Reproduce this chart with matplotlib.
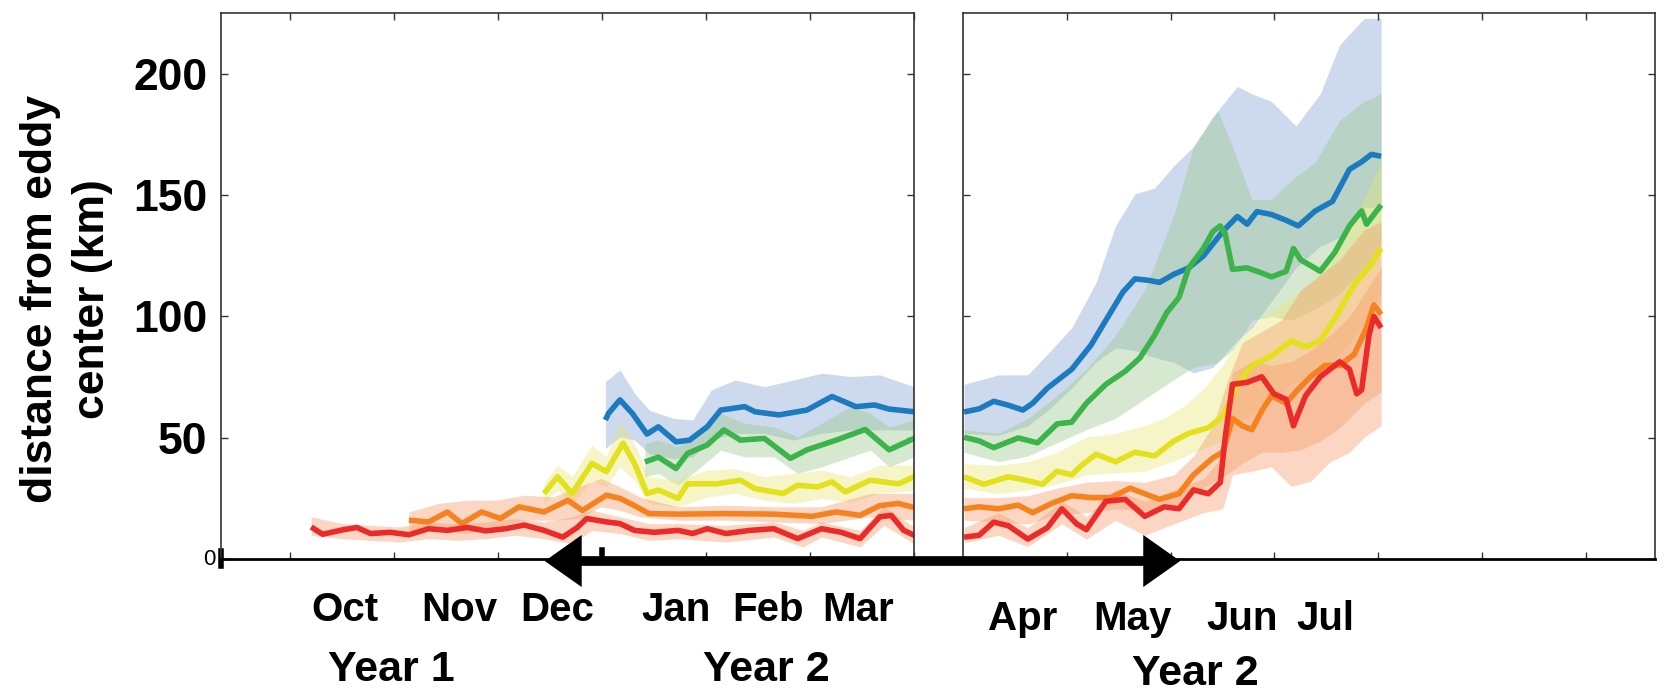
import matplotlib.pyplot as plt
import numpy as np
from matplotlib.patches import FancyArrowPatch
from matplotlib.lines import Line2D
import matplotlib.transforms as mtransforms

plt.rcParams['font.family'] = ['Liberation Sans', 'DejaVu Sans']

# painel esquerdo (Oct - Mar), x em meses
blue_l_x = [3.03,3.06,3.17,3.29,3.43,3.54,3.71,3.84,4.01,4.14,4.37,4.47,4.70,4.97,5.21,5.44,5.62,5.76,6.00]
blue_l_y = [57.3,60,65.6,60,51.5,54.5,48.3,49,54.5,61.4,62.8,60.7,59.4,61.4,67,62.8,63.5,61.8,60.7]
green_l_x = [3.41,3.54,3.71,3.82,4.01,4.17,4.33,4.56,4.81,4.97,5.11,5.25,5.53,5.76,6.00]
green_l_y = [40,42,37.3,43.5,47,53.2,49,49.7,41.5,45,47,49,53.4,45,49.7]
yellow_l_x = [2.44,2.57,2.71,2.90,3.04,3.20,3.31,3.43,3.54,3.73,3.82,4.10,4.33,4.47,4.74,4.88,5.07,5.21,5.34,5.58,5.85,6.00]
yellow_l_y = [27,33.9,27,39.4,36,47.7,39.4,27,28.4,25,31,31,32.5,29,27,30.4,29.7,31.8,27.7,32.5,31,33.9]
orange_l_x = [1.14,1.33,1.51,1.65,1.84,2.02,2.20,2.44,2.67,2.81,3.04,3.17,3.31,3.45,3.73,4.19,4.65,5.02,5.25,5.48,5.67,5.85,6.00]
orange_l_y = [16,15.3,19.4,14.6,19.4,16.7,21.5,19.4,24.2,20,26.3,25,22,18.7,18.5,18.7,18.5,17.6,19.4,18,22,22.9,21.2]
red_l_x = [0.20,0.31,0.50,0.64,0.77,0.96,1.14,1.33,1.51,1.70,1.88,2.07,2.25,2.44,2.62,2.76,2.85,3.04,3.17,3.31,3.50,3.73,3.87,4.01,4.19,4.42,4.65,4.88,5.11,5.30,5.48,5.67,5.78,5.90,6.00]
red_l_y = [13.2,10.2,12,13,10.5,11,10,12.5,11.8,13,11.6,12.5,14,11.8,9,13,16.7,15.3,14.6,11.8,11,11.8,10.5,12.5,10.5,11.8,12.5,8.4,12.5,11,8.4,17.4,18,11.8,9.8]

# faixas (min/max) painel esquerdo
blue_lb_x = [3.03,3.17,3.31,3.45,3.68,3.87,4.05,4.28,4.56,4.84,5.11,5.39,5.67,6.00]
blue_lb_hi = [73.1,78,68.3,61.4,58,57.3,69.7,73.8,71,73.8,76.6,75.2,75.9,71]
blue_lb_lo = [45.6,50.4,49,43.5,41.4,42.1,49,51.8,51.8,49,51.8,53.2,53.2,53.2]
green_lb_x = [3.41,3.54,3.73,3.91,4.14,4.37,4.65,4.88,5.11,5.39,5.58,5.76,6.00]
green_lb_hi = [47.6,49,46.3,53.2,60,55.9,54.5,50.4,55.9,62.8,60,54.5,57.3]
green_lb_lo = [33.9,35.3,30.4,36.6,44.9,42.1,42.1,35.3,38,42.1,44.9,38,42.1]
yellow_lb_x = [2.44,2.57,2.71,2.90,3.04,3.17,3.31,3.45,3.73,4.01,4.28,4.56,4.84,5.11,5.39,5.67,6.00]
yellow_lb_hi = [31.1,38.7,33.9,47,42.1,57.3,47.6,33.9,32.5,36.6,37.3,33.9,35.3,36.6,33.9,38.7,38.7]
yellow_lb_lo = [22.9,28.4,22.9,32.5,29.7,38,32.5,22.9,21.5,25.6,27,24.2,22.9,24.9,23.5,27,28.4]
orange_lb_x = [1.14,1.42,1.70,1.97,2.25,2.53,2.76,2.99,3.17,3.36,3.73,4.19,4.65,5.11,5.58,6.00]
orange_lb_hi = [19.4,22.9,24.2,24.2,26.3,25.6,29.7,33.2,29.7,25.6,21.5,22.2,21.5,21.5,27,27]
orange_lb_lo = [11.8,11.8,10.5,13.2,16,16,16.7,21.5,20.1,17.4,16,16,15.3,14.6,17.4,16]
red_lb_x = [0.20,0.50,0.77,1.05,1.33,1.60,1.88,2.16,2.44,2.71,2.90,3.17,3.45,3.73,4.19,4.65,4.93,5.11,5.48,5.71,6.00]
red_lb_hi = [17.4,14.6,13.9,13.2,15.3,14.6,15.3,16.7,15.3,17.4,20.1,17.4,14.6,14.6,13.9,15.3,11.8,15.3,11.8,21.5,13.2]
red_lb_lo = [9.8,8.4,7.7,7,8.4,7.7,8.4,9.8,8.4,6.3,11.8,10.5,7.7,8.4,7,9.1,5,9.1,5,13.9,6.3]

# painel direito (Apr - Jul)
blue_r_x = [0.01,0.155,0.296,0.437,0.577,0.671,0.812,1.047,1.235,1.376,1.540,1.657,1.798,1.892,2.033,2.174,2.315,2.502,2.643,2.737,2.831,2.972,3.113,3.230,3.394,3.559,3.723,3.840,3.934,4.028]
blue_r_y = [60.6,61.9,65,63.4,61.4,64.2,70.4,78.2,88.3,98.4,110,115.5,114.8,114,117.4,120,124.9,135,141.2,138,143.2,142,139.6,137.3,143.5,147.4,160.6,163.7,166.8,166]
green_r_x = [0.01,0.155,0.296,0.531,0.718,0.906,1.047,1.188,1.376,1.563,1.704,1.845,1.962,2.080,2.174,2.315,2.408,2.479,2.526,2.596,2.737,2.878,2.972,3.113,3.183,3.254,3.441,3.582,3.723,3.840,3.887,4.028]
green_r_y = [50.2,48.7,45.9,49.9,47.9,55.7,56.4,64.2,72,77.4,82.9,92.2,101.5,107.8,120,128,135,137.3,134,119.4,120,117.9,116.3,118.6,128,123.3,118.6,126.4,137.3,143.5,138,145.9]
yellow_r_x = [0.01,0.20,0.437,0.624,0.765,0.906,1.047,1.141,1.282,1.469,1.657,1.845,2.033,2.174,2.362,2.502,2.643,2.784,2.972,3.160,3.300,3.441,3.582,3.770,3.911,4.028]
yellow_r_y = [33.9,30.8,33.9,32.3,30.8,36.2,34.7,38.6,43.2,40.1,44,42.5,48.7,51.8,54.1,58.8,72,79.8,83.7,89.9,87.5,89.9,99.2,113.2,120.2,128]
orange_r_x = [0.01,0.155,0.343,0.531,0.671,0.859,1.047,1.235,1.423,1.610,1.751,1.892,2.080,2.221,2.408,2.502,2.596,2.690,2.784,2.878,2.972,3.113,3.207,3.347,3.488,3.629,3.770,3.887,3.958,4.028]
orange_r_y = [20.7,21.5,20.7,22.2,19.1,23,26.1,25.3,25.3,29.2,26.9,24.6,26.9,34.7,41.7,44,58,54.9,53.3,61.1,67.3,64.2,68.9,75.1,79.8,79.8,84.4,95.3,104.7,100.8]
red_r_x = [0.01,0.155,0.296,0.437,0.624,0.812,0.953,1.094,1.188,1.376,1.563,1.751,1.939,2.080,2.221,2.362,2.479,2.526,2.596,2.737,2.878,2.995,3.113,3.183,3.300,3.441,3.629,3.723,3.793,3.840,3.911,3.958,4.028]
red_r_y = [9,9.8,15.2,13.7,8.2,12.9,20.7,14.5,12.1,23.8,24.6,17.6,21.5,20.7,28.5,26.9,31.6,50.2,72,72.8,75.1,68.1,65.8,54.9,67.3,75.1,81.3,78.2,68.1,69.7,92.2,100,95.3]

blue_rb_x = [0.01,0.343,0.624,0.812,1.047,1.282,1.469,1.657,1.845,2.033,2.221,2.408,2.643,2.784,2.972,3.207,3.441,3.629,3.864,4.028]
blue_rb_hi = [72,75.9,75.9,84.4,95.3,114,137.3,150.5,152.9,162.2,170,182.4,194.8,191.7,188.6,178.5,191.7,212,222.8,222.8]
blue_rb_lo = [51.8,51,54.9,61.1,70.4,81.3,87,86,83,81,76.7,79,90,95.3,106.2,120,129,132.6,145,145]
green_rb_x = [0.01,0.343,0.624,0.906,1.188,1.469,1.751,2.033,2.221,2.455,2.596,2.784,2.972,3.160,3.394,3.629,3.864,4.028]
green_rb_hi = [53.3,51.8,58,67.3,78.2,92.2,110.9,142,170,184.7,170,148.2,148.2,156,163.7,180.8,188.6,191.7]
green_rb_lo = [44,40.1,42.5,47.9,53.3,58,66,74,79,81,86,98.4,100,98.4,103.1,109.3,120.2,129.5]
yellow_rb_x = [0.01,0.343,0.624,0.906,1.188,1.469,1.751,1.939,2.127,2.315,2.502,2.690,2.878,3.066,3.160,3.394,3.629,3.864,4.028]
yellow_rb_hi = [39.3,38.6,40.1,44,50.2,51.8,55,58,63,70,80,92.2,100,104.7,107.8,115.5,132.6,148.2,163.7]
yellow_rb_lo = [29.2,26.9,28.5,30.8,34.7,35.5,36.2,39,42,45.6,48.7,57,62.7,68,72,75.1,84.4,96.9,109.3]
orange_rb_x = [0.01,0.343,0.624,0.906,1.188,1.469,1.751,2.033,2.221,2.408,2.549,2.690,2.878,3.066,3.254,3.441,3.629,3.864,4.028]
orange_rb_hi = [25.3,25.3,26.1,29.2,31.6,32.3,31.6,34.7,42.5,54.9,73.6,89.1,93.8,98.4,110.9,117.1,123.3,135.7,138.9]
orange_rb_lo = [16,15.2,14.5,18.3,19.1,20.7,19.9,21.5,26.9,31.6,35,39.5,44,44,45,48.7,54,64.2,68.9]
red_rb_x = [0.01,0.343,0.624,0.953,1.188,1.469,1.751,2.033,2.315,2.502,2.596,2.784,2.972,3.160,3.347,3.535,3.723,3.864,4.028]
red_rb_hi = [12.9,19.1,12.9,23.8,17.6,28.5,23.8,28.5,33.1,42.5,76.7,81.3,79.8,81.3,86,92.2,100,109.3,120.2]
red_rb_lo = [6.7,9.8,5.1,14.5,8.2,16,9.8,14.5,19.1,20.7,34.7,36.2,38,30,32,40,44,50.2,54.9]

meses_esq = ['Oct','Nov','Dec','Jan','Feb','Mar']
meses_dir = ['Apr','May','Jun','Jul']
anos = ['Year 1','Year 2','Year 2']

cor_linha = {'blue':'#1c7abf','green':'#3cb44a','yellow':'#e3e01c','orange':'#f5821f','red':'#ec2a2a'}
cor_faixa = {'blue':'#82a2d2','green':'#99ca8a','yellow':'#e6e675','orange':'#f59b69','red':'#f59b69'}

fig = plt.figure(figsize=(16.76, 6.91), dpi=100)
ax1 = fig.add_axes([0.1319, 0.191, 0.4135, 0.790])
ax2 = fig.add_axes([0.5746, 0.191, 0.4129, 0.790])

esq = [('blue',blue_l_x,blue_l_y,blue_lb_x,blue_lb_lo,blue_lb_hi),
       ('green',green_l_x,green_l_y,green_lb_x,green_lb_lo,green_lb_hi),
       ('yellow',yellow_l_x,yellow_l_y,yellow_lb_x,yellow_lb_lo,yellow_lb_hi),
       ('orange',orange_l_x,orange_l_y,orange_lb_x,orange_lb_lo,orange_lb_hi),
       ('red',red_l_x,red_l_y,red_lb_x,red_lb_lo,red_lb_hi)]
dir_ = [('blue',blue_r_x,blue_r_y,blue_rb_x,blue_rb_lo,blue_rb_hi),
        ('green',green_r_x,green_r_y,green_rb_x,green_rb_lo,green_rb_hi),
        ('yellow',yellow_r_x,yellow_r_y,yellow_rb_x,yellow_rb_lo,yellow_rb_hi),
        ('orange',orange_r_x,orange_r_y,orange_rb_x,orange_rb_lo,orange_rb_hi),
        ('red',red_r_x,red_r_y,red_rb_x,red_rb_lo,red_rb_hi)]

for ax, series in [(ax1, esq), (ax2, dir_)]:
    for nome, x, y, bx, lo, hi in series:
        ax.fill_between(bx, lo, hi, color=cor_faixa[nome], alpha=0.4, lw=0)
        ax.plot(x, y, color=cor_linha[nome], lw=4, solid_joinstyle='round', solid_capstyle='butt')

ax1.set_xlim(-0.667, 6)
ax1.set_xticks(np.arange(0, 7, 1))
ax2.set_xlim(0, 6.667)
ax2.set_xticks(np.arange(1, 7, 1))

for ax in [ax1, ax2]:
    ax.set_ylim(0, 225)
    ax.set_yticks([0, 50, 100, 150, 200])
    ax.tick_params(direction='in', top=True, right=True, length=5, width=1, color='#333333', labelbottom=False)
    for s in ax.spines.values():
        s.set_linewidth(1.2)
        s.set_color('#333333')
    ax.spines['bottom'].set_linewidth(2)
    ax.spines['bottom'].set_color('black')

ax1.set_yticklabels(['', '50', '100', '150', '200'], fontsize=32, fontweight='bold')
ax1.tick_params(axis='y', pad=10)
ax2.set_yticklabels([])
trans = mtransforms.blended_transform_factory(ax1.transAxes, ax1.transData)
ax1.text(-0.008, 0, '0', transform=trans, ha='right', va='center', fontsize=16)
ax1.add_line(Line2D([0, 0], [-0.012, 0.014], transform=ax1.transAxes, color='black', lw=4, clip_on=False))
trans2 = mtransforms.blended_transform_factory(ax1.transData, ax1.transAxes)
ax1.add_line(Line2D([3, 3], [0.0, 0.016], transform=trans2, color='black', lw=4, clip_on=False))

fig.text(0.0396, 0.567, 'distance from eddy\ncenter (km)', rotation=90, ha='center', va='center',
         fontsize=32, fontweight='bold', linespacing=1.35, multialignment='center')

pos_esq = [0.2060, 0.2743, 0.3323, 0.4032, 0.4580, 0.5121]
for m, px in zip(meses_esq, pos_esq):
    fig.text(px, 0.1013, m, ha='center', va='baseline', fontsize=29, fontweight='bold')
pos_dir = [0.6104, 0.6754, 0.7411, 0.7909]
for m, px in zip(meses_dir, pos_dir):
    fig.text(px, 0.0890, m, ha='center', va='baseline', fontsize=29, fontweight='bold')
for a, px, py in zip(anos, [0.2334, 0.4573, 0.7131], [0.0150, 0.0150, 0.0087]):
    fig.text(px, py, a, ha='center', va='baseline', fontsize=31, fontweight='bold')

seta = FancyArrowPatch((0.3234, 0.1881), (0.7058, 0.1881), transform=fig.transFigure,
                       arrowstyle='<|-|>,head_length=17,head_width=12', mutation_scale=1,
                       lw=7, color='black', joinstyle='miter', capstyle='butt', clip_on=False)
fig.add_artist(seta)

plt.savefig('out.png', dpi=100)
